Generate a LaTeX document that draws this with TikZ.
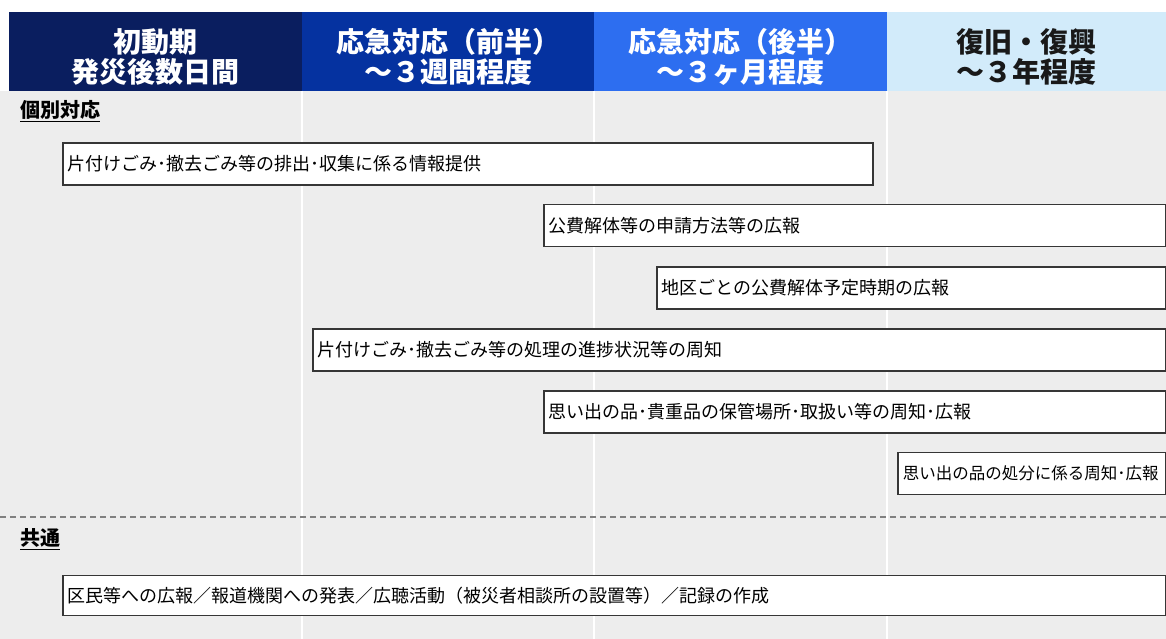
\documentclass[tikz,border=0pt]{standalone}
\usepackage{fontspec}
\setmainfont{Noto Sans CJK JP}
\usepackage{tikz}
\usetikzlibrary{positioning}
\definecolor{phaseA}{HTML}{0A1E5F}
\definecolor{phaseB}{HTML}{0532A0}
\definecolor{phaseC}{HTML}{2D6EF0}
\definecolor{phaseD}{HTML}{D2EBFA}
\definecolor{bggrey}{HTML}{EDEDED}
\definecolor{boxline}{HTML}{363636}

\begin{document}
\begin{tikzpicture}
  [x=1pt,y=-1pt,
   head/.style={inner sep=0pt,align=center,font=\fontsize{28}{30}\selectfont\bfseries},
   task/.style={draw=boxline,line width=1.6pt,fill=white,anchor=west,minimum height=42pt,
                inner xsep=5pt,inner ysep=0pt,text width=#1,align=left,
                font=\fontsize{18}{20}\selectfont},
   group/.style={anchor=west,inner sep=0pt,font=\fontsize{20}{22}\selectfont\bfseries}]
  \useasboundingbox (0,0) rectangle (1166,639);
  \fill[bggrey] (0,91) rectangle (1166,639);
  \foreach \a/\b/\c in {9/302/phaseA,302/594/phaseB,594/887/phaseC,887/1166/phaseD}
    \fill[\c] (\a,12) rectangle (\b,91);
  \foreach \x in {302,594,887}
    \draw[white,line width=2pt] (\x,91) -- (\x,639);
  \draw[black!50,line width=1.2pt,dash pattern=on 6pt off 4pt] (0,517) -- (1166,517);

  \node[head,text=white] (h1) at (155.5,57) {初動期\\発災後数日間};
  \node[head,text=white] (h2) at (448,57) {応急対応（前半）\\～３週間程度};
  \node[head,text=white] (h3) at (740.5,57) {応急対応（後半）\\～３ヶ月程度};
  \node[head,text=black!90] (h4) at (1026.5,57) {復旧・復興\\～３年程度};

  \node[group] (g1) at (20,111) {\underline{個別対応}};
  \node[group] (g2) at (20,539) {\underline{共通}};

  \node[task=800pt] (t1) at (62,164) {片付けごみ･撤去ごみ等の排出･収集に係る情報提供};
  \node[task=612pt] (t2) at (543,225.5) {公費解体等の申請方法等の広報};
  \node[task=499pt] (t3) at (656,288) {地区ごとの公費解体予定時期の広報};
  \node[task=843pt] (t4) at (312,350) {片付けごみ･撤去ごみ等の処理の進捗状況等の周知};
  \node[task=612pt] (t5) at (543,412) {思い出の品･貴重品の保管場所･取扱い等の周知･広報};
  \node[task=258pt,font=\fontsize{16.5}{18}\selectfont] (t6) at (897,473.5) {思い出の品の処分に係る周知･広報};
  \node[task=1093pt,minimum height=40pt] (t7) at (62,595.5) {区民等への広報／報道機関への発表／広聴活動（被災者相談所の設置等）／記録の作成};
\end{tikzpicture}
\end{document}
